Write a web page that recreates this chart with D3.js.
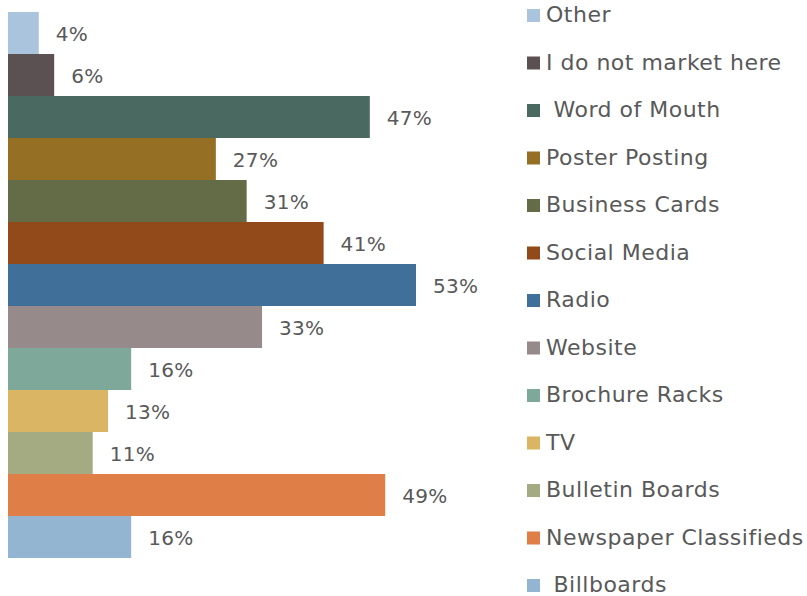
<!DOCTYPE html>
<html>
<head>
<meta charset="utf-8">
<script src="https://cdn.jsdelivr.net/npm/d3@7"></script>
<style>
  html, body { margin: 0; padding: 0; background: #fff; }
  text { font-family: "DejaVu Sans", sans-serif; fill: #595959; white-space: pre; }
</style>
</head>
<body>
<svg id="chart" width="807" height="596"></svg>
<script>
// Marketing channels, top to bottom
const categories = ["Other", "I do not market here", " Word of Mouth", "Poster Posting",
  "Business Cards", "Social Media", "Radio", "Website", "Brochure Racks", "TV",
  "Bulletin Boards", "Newspaper Classifieds", " Billboards"];
const values = [4, 6, 47, 27, 31, 41, 53, 33, 16, 13, 11, 49, 16];
const colors = ["#A9C4DC", "#5B5152", "#4A6A61", "#956F24", "#636B47", "#934A1B",
  "#40709A", "#968B8A", "#7DA89A", "#DAB564", "#A4AB82", "#DF7F47", "#94B5D2"];

const svg = d3.select("#chart");

const x = d3.scaleLinear().domain([0, 53]).range([8, 416]);
const y = d3.scaleBand().domain(d3.range(categories.length)).range([12, 558]).padding(0);

// bars
svg.append("g").selectAll("rect")
  .data(values)
  .join("rect")
  .attr("x", x(0))
  .attr("y", (d, i) => y(i))
  .attr("width", d => x(d) - x(0))
  .attr("height", y.bandwidth())
  .attr("fill", (d, i) => colors[i]);

// value labels
svg.append("g").selectAll("text")
  .data(values)
  .join("text")
  .attr("x", d => x(d) + 17)
  .attr("y", (d, i) => y(i) + y.bandwidth() / 2 + 2)
  .attr("dominant-baseline", "middle")
  .attr("font-size", 20)
  .attr("letter-spacing", 0.3)
  .text(d => d + "%");

// legend
const ly = d3.scaleLinear().domain([0, categories.length - 1]).range([15, 585]);
const legend = svg.append("g").selectAll("g")
  .data(categories)
  .join("g")
  .attr("transform", (d, i) => `translate(527,${ly(i)})`);
legend.append("rect")
  .attr("x", 0).attr("y", -6)
  .attr("width", 13).attr("height", 13)
  .attr("fill", (d, i) => colors[i]);
legend.append("text")
  .attr("x", 19).attr("y", 1)
  .attr("dominant-baseline", "middle")
  .attr("font-size", 22)
  .attr("letter-spacing", 0.5)
  .text(d => d);
</script>
</body>
</html>
